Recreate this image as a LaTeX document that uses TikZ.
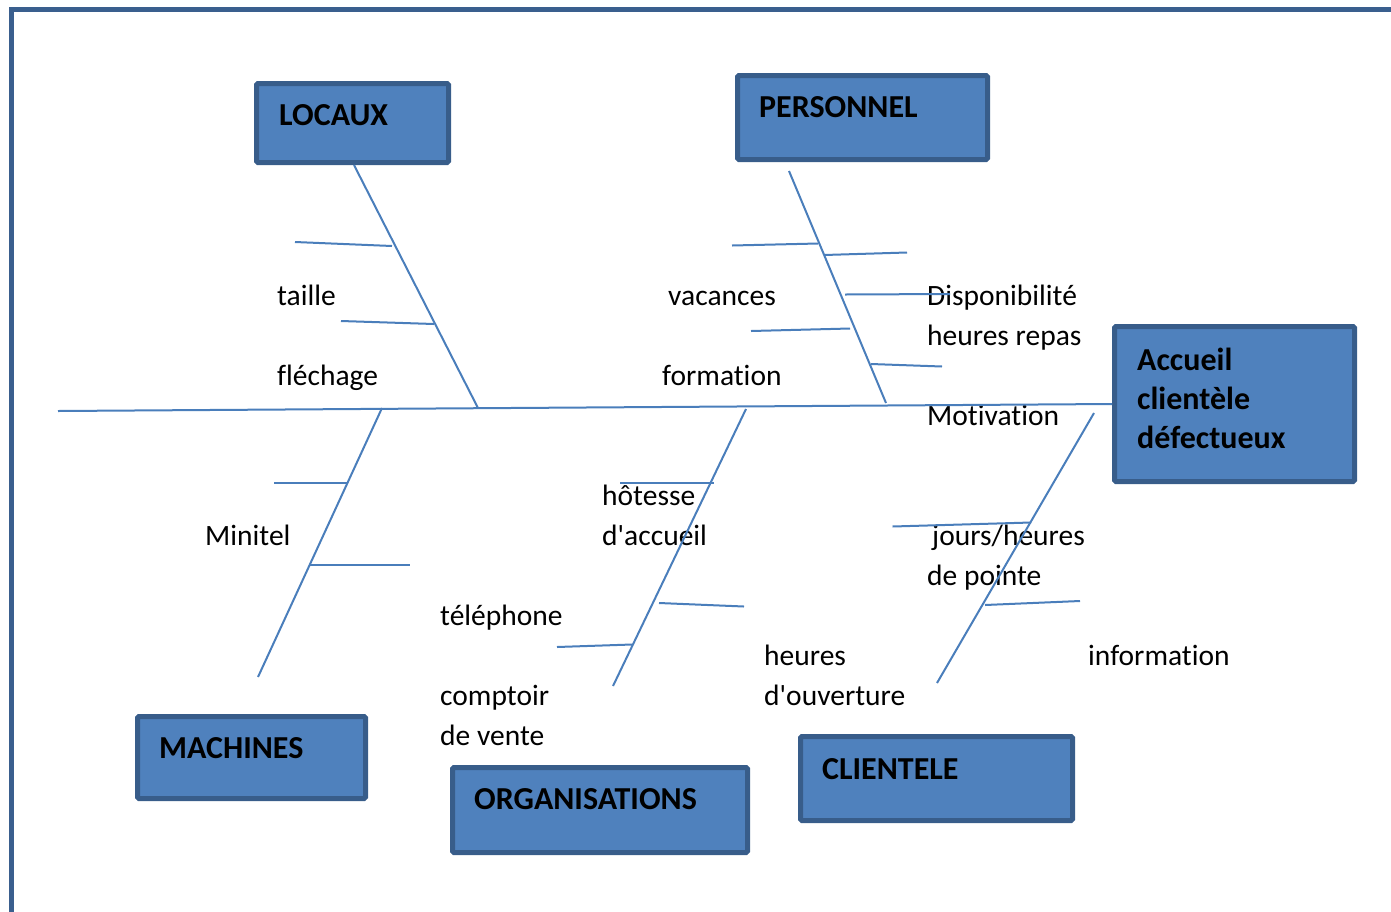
\documentclass[tikz,border=0pt]{standalone}
\usepackage{fontspec}
\setmainfont{Carlito}[Ligatures={TeXOff,CommonOff}]
\definecolor{boxfill}{HTML}{4F81BD}
\definecolor{boxedge}{HTML}{385D8A}
\definecolor{bonecol}{HTML}{4A7EBB}
\definecolor{framecol}{HTML}{3A5F8E}
\begin{document}
\begin{tikzpicture}[x=1pt,y=-1pt,
  box/.style={draw=boxedge, fill=boxfill, line width=5pt, rounded corners=1.5pt, inner sep=0pt},
  bone/.style={draw=bonecol, line width=2pt},
  lbl/.style={anchor=base west, inner sep=0pt, font=\fontsize{29.5}{35}\selectfont},
  head/.style={anchor=base west, inner sep=0pt, font=\fontsize{32}{38}\selectfont\bfseries}]
\useasboundingbox (0,0) rectangle (1391,911);

% page frame
\draw[framecol, line width=5pt] (11,915) -- (11,9) -- (1395,9);

% category boxes and the effect box
\node[box, minimum width=192pt, minimum height=79pt]  (locaux)    at (352.5,123)  {};
\node[box, minimum width=250pt, minimum height=84pt]  (personnel) at (862.5,117.5) {};
\node[box, minimum width=240pt, minimum height=155pt] (effet)     at (1234.5,404) {};
\node[box, minimum width=228pt, minimum height=82pt]  (machines)  at (251.5,757.5) {};
\node[box, minimum width=295pt, minimum height=85pt]  (orga)      at (600,810)    {};
\node[box, minimum width=272pt, minimum height=84pt]  (clientele) at (936.5,778.5) {};

\node[head] (t-locaux)    at (279,125)  {LOCAUX};
\node[head] (t-personnel) at (759,117)  {PERSONNEL};
\node[head] (t-effet1)    at (1137,370) {Accueil};
\node[head] (t-effet2)    at (1137,409) {clientèle};
\node[head] (t-effet3)    at (1137,448) {défectueux};
\node[head] (t-machines)  at (159,758)  {MACHINES};
\node[head] (t-orga)      at (474,809)  {ORGANISATIONS};
\node[head] (t-clientele) at (822,779)  {CLIENTELE};

% cause labels
\node[lbl] (l-taille)   at (277,305.5) {taille};
\node[lbl] (l-flechage) at (277,385.5) {fléchage};
\node[lbl] (l-vacances) at (668,305.5) {vacances};
\node[lbl] (l-formation) at (662,385.5) {formation};
\node[lbl] (l-dispo1)   at (927,305.5) {Disponibilité};
\node[lbl] (l-dispo2)   at (927,345.5) {heures repas};
\node[lbl] (l-motiv)    at (927,425.5) {Motivation};
\node[lbl] (l-hotesse1) at (602,505.5) {hôtesse};
\node[lbl] (l-hotesse2) at (602,545.5) {d'accueil};
\node[lbl] (l-minitel)  at (205,545.5) {Minitel};
\node[lbl] (l-jours1)   at (932,545.5) {jours/heures};
\node[lbl] (l-jours2)   at (927,585.5) {de pointe};
\node[lbl] (l-tel)      at (440,625.5) {téléphone};
\node[lbl] (l-heures1)  at (764,665.5) {heures};
\node[lbl] (l-heures2)  at (764,705.5) {d'ouverture};
\node[lbl] (l-info)     at (1088,665.5) {information};
\node[lbl] (l-compt1)   at (440,705.5) {comptoir};
\node[lbl] (l-compt2)   at (440,745.5) {de vente};

% spine
\coordinate (tail) at (58,411);
\draw[bone] (tail) -- (effet.west);

% main bones
\coordinate (locaux-a) at (354,165);   \coordinate (locaux-b) at (478,408);
\coordinate (pers-a)   at (789,171);   \coordinate (pers-b)   at (886,403);
\coordinate (mach-a)   at (382,408);   \coordinate (mach-b)   at (258,677);
\coordinate (orga-a)   at (746,409);   \coordinate (orga-b)   at (613,686);
\coordinate (cli-a)    at (1094,413);  \coordinate (cli-b)    at (937,683);
\draw[bone] (locaux-a) -- (locaux-b);
\draw[bone] (pers-a) -- (pers-b);
\draw[bone] (mach-a) -- (mach-b);
\draw[bone] (orga-a) -- (orga-b);
\draw[bone] (cli-a) -- (cli-b);

% ribs
\foreach \a/\b in {
  {(295,242)}/{(392,246)}, {(341,321)}/{(434,324)},
  {(732,245.5)}/{(818,243.5)}, {(824,255)}/{(907,252.5)}, {(845,294.5)}/{(950,294)},
  {(751,331)}/{(850,328.5)}, {(871,364)}/{(942,366.5)},
  {(274,483)}/{(347,483)}, {(310,564.5)}/{(410,564.5)},
  {(620,482.5)}/{(714,482.5)}, {(659,603)}/{(744,606.5)}, {(557,647)}/{(632,644.5)},
  {(892.5,526.5)}/{(1031,522.5)}, {(985,605)}/{(1080,601)}}
  \draw[bone] \a -- \b;
\end{tikzpicture}
\end{document}
